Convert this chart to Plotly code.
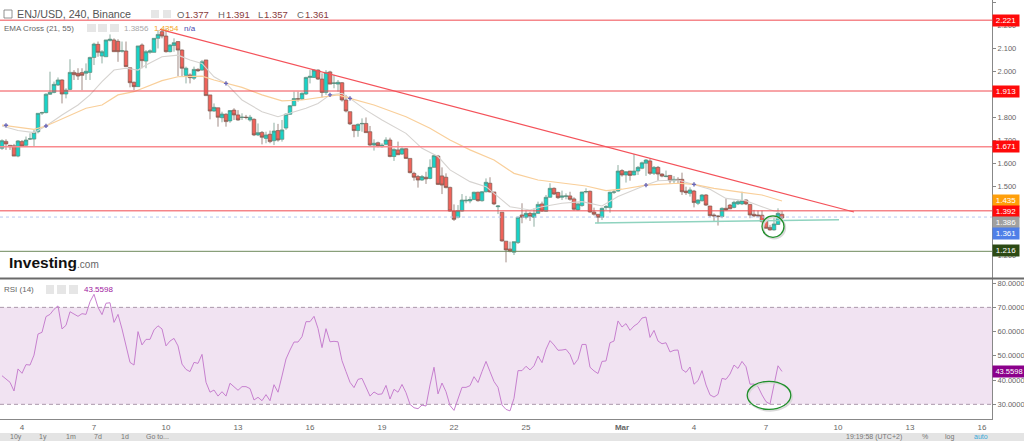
import plotly.graph_objects as go

# ---- candle data (4h bars, ENJ/USD) ----
opens = [1.664,1.694,1.677,1.675,1.630,1.693,1.677,1.704,1.704,1.736,1.817,1.819,1.899,1.907,1.939,1.961,1.900,1.920,1.994,1.990,
1.993,1.990,1.994,2.059,2.116,2.065,2.062,2.133,2.135,2.129,2.086,2.087,2.014,1.951,1.932,2.113,2.043,2.081,2.081,2.142,
2.171,2.152,2.084,2.111,2.128,2.091,1.981,1.983,1.969,2.007,2.004,2.048,1.896,1.826,1.840,1.797,1.812,1.783,1.830,1.809,
1.798,1.799,1.787,1.790,1.722,1.733,1.707,1.725,1.697,1.741,1.703,1.752,1.812,1.849,1.879,1.878,1.900,1.972,1.972,2.004,
1.965,1.907,1.996,1.946,1.943,1.949,1.874,1.823,1.765,1.741,1.770,1.772,1.736,1.678,1.688,1.671,1.681,1.700,1.628,1.657,
1.639,1.662,1.620,1.555,1.541,1.526,1.538,1.533,1.581,1.630,1.544,1.538,1.494,1.391,1.364,1.391,1.435,1.435,1.441,1.473,
1.436,1.475,1.512,1.474,1.410,1.386,1.260,1.226,1.212,1.254,1.374,1.364,1.381,1.364,1.381,1.422,1.390,1.451,1.490,1.472,
1.451,1.454,1.457,1.444,1.396,1.415,1.474,1.477,1.387,1.377,1.364,1.407,1.406,1.473,1.478,1.567,1.548,1.565,1.548,1.565,
1.577,1.599,1.609,1.555,1.581,1.552,1.541,1.546,1.523,1.529,1.529,1.478,1.468,1.478,1.425,1.436,1.461,1.413,1.374,1.370,
1.367,1.403,1.417,1.407,1.422,1.422,1.439,1.420,1.377,1.374,1.373,1.349,1.320,1.309,1.333,1.377]
highs = [1.703,1.703,1.677,1.683,1.700,1.700,1.715,1.729,1.744,1.816,1.823,1.903,1.997,1.954,1.972,1.964,1.925,2.051,2.004,2.012,
2.012,2.033,2.062,2.123,2.128,2.091,2.135,2.159,2.142,2.138,2.128,2.128,2.014,1.954,2.109,2.120,2.091,2.094,2.142,2.178,
2.185,2.185,2.116,2.142,2.128,2.094,2.019,1.990,2.019,2.012,2.048,2.048,1.896,1.859,1.840,1.823,1.816,1.830,1.838,1.830,
1.816,1.809,1.809,1.794,1.772,1.739,1.736,1.741,1.775,1.770,1.787,1.816,1.852,1.910,1.910,1.907,1.975,2.004,2.007,2.007,
1.990,2.004,2.001,1.983,1.961,1.952,1.896,1.823,1.765,1.772,1.794,1.798,1.761,1.703,1.693,1.686,1.712,1.710,1.664,1.693,
1.668,1.664,1.620,1.562,1.548,1.548,1.562,1.616,1.635,1.635,1.581,1.555,1.497,1.420,1.417,1.465,1.457,1.454,1.475,1.475,
1.478,1.533,1.538,1.474,1.417,1.386,1.260,1.258,1.258,1.367,1.425,1.393,1.388,1.403,1.432,1.432,1.461,1.512,1.494,1.475,
1.480,1.468,1.475,1.451,1.428,1.474,1.490,1.480,1.406,1.377,1.406,1.417,1.475,1.483,1.591,1.573,1.565,1.565,1.639,1.587,
1.606,1.617,1.620,1.587,1.587,1.555,1.567,1.548,1.543,1.538,1.558,1.497,1.494,1.483,1.442,1.465,1.465,1.413,1.381,1.374,
1.407,1.446,1.422,1.436,1.439,1.475,1.442,1.422,1.396,1.393,1.393,1.355,1.331,1.364,1.403,1.391]
lows = [1.657,1.657,1.657,1.630,1.625,1.671,1.671,1.700,1.674,1.729,1.809,1.816,1.896,1.903,1.935,1.859,1.881,1.917,1.961,1.961,
1.917,1.961,1.961,2.026,2.062,2.033,2.062,2.128,2.084,2.040,2.080,2.019,1.929,1.917,1.932,2.012,2.012,2.075,2.081,2.098,
2.142,2.080,2.081,2.084,1.978,1.978,1.946,1.946,1.961,1.996,2.001,1.893,1.790,1.823,1.758,1.777,1.758,1.775,1.787,1.784,
1.787,1.790,1.780,1.717,1.717,1.681,1.686,1.686,1.678,1.693,1.693,1.744,1.809,1.848,1.867,1.875,1.896,1.946,1.970,1.961,
1.885,1.896,1.943,1.925,1.910,1.867,1.820,1.765,1.712,1.714,1.736,1.732,1.674,1.654,1.668,1.667,1.677,1.625,1.609,1.635,
1.635,1.619,1.555,1.523,1.493,1.522,1.509,1.529,1.581,1.504,1.465,1.490,1.388,1.348,1.359,1.388,1.425,1.425,1.439,1.432,
1.432,1.472,1.472,1.417,1.378,1.258,1.168,1.212,1.200,1.248,1.338,1.355,1.348,1.323,1.378,1.387,1.387,1.449,1.461,1.444,
1.439,1.442,1.436,1.393,1.393,1.410,1.468,1.384,1.371,1.338,1.352,1.396,1.384,1.465,1.475,1.541,1.515,1.523,1.546,1.548,
1.573,1.544,1.548,1.548,1.523,1.538,1.538,1.509,1.509,1.509,1.461,1.461,1.454,1.407,1.417,1.432,1.413,1.364,1.345,1.328,
1.360,1.393,1.399,1.403,1.417,1.417,1.417,1.360,1.364,1.364,1.341,1.315,1.306,1.306,1.331,1.357]
closes = [1.697,1.683,1.671,1.630,1.696,1.674,1.700,1.705,1.733,1.816,1.819,1.899,1.907,1.942,1.961,1.900,1.917,1.994,1.984,1.978,
1.981,1.999,2.059,2.117,2.081,2.084,2.135,2.138,2.084,2.084,2.088,2.019,1.949,1.932,2.109,2.045,2.084,2.088,2.142,2.159,
2.152,2.084,2.113,2.123,2.091,2.012,2.012,1.971,2.007,2.001,2.040,1.893,1.826,1.842,1.799,1.813,1.780,1.828,1.809,1.787,
1.799,1.798,1.799,1.722,1.732,1.712,1.722,1.693,1.739,1.700,1.744,1.812,1.849,1.880,1.878,1.903,1.972,1.977,2.004,1.965,
1.907,1.994,1.943,1.948,1.951,1.874,1.826,1.770,1.741,1.768,1.772,1.732,1.678,1.686,1.674,1.678,1.700,1.628,1.659,1.636,
1.662,1.620,1.558,1.538,1.526,1.541,1.531,1.581,1.632,1.507,1.504,1.493,1.391,1.355,1.393,1.439,1.438,1.441,1.473,1.436,
1.475,1.516,1.474,1.422,1.413,1.261,1.222,1.215,1.258,1.364,1.364,1.381,1.367,1.381,1.420,1.391,1.451,1.490,1.465,1.449,
1.457,1.457,1.442,1.399,1.422,1.474,1.476,1.387,1.377,1.364,1.403,1.410,1.473,1.474,1.565,1.548,1.562,1.546,1.565,1.581,
1.601,1.613,1.555,1.581,1.552,1.543,1.543,1.523,1.529,1.526,1.475,1.471,1.483,1.428,1.439,1.461,1.417,1.371,1.370,1.367,
1.403,1.396,1.401,1.429,1.432,1.436,1.422,1.374,1.370,1.370,1.345,1.316,1.309,1.335,1.381,1.361]
bars = list(range(len(closes)))

# ---- moving averages, read at visible bends (bar number, price) ----
ema55_bar = [0,4,8,11,16,21,25,29,33,36,40,44,46,50,53,56,60,65,70,75,79,84,87,93,101,107,112,117,123,128,134,141,146,151,155,161,169,173,178,185,190,195]
ema55_val = [1.765,1.755,1.746,1.761,1.801,1.838,1.852,1.896,1.910,1.932,1.958,1.975,1.975,1.978,1.961,1.946,1.929,1.896,1.870,1.874,1.885,1.896,1.881,1.852,1.801,1.751,1.700,1.657,1.613,1.555,1.526,1.512,1.500,1.480,1.486,1.504,1.512,1.507,1.490,1.472,1.461,1.435]
ema21_bar = [0,4,8,11,15,19,22,25,28,31,34,36,40,44,47,50,53,56,60,65,69,72,76,79,82,85,87,91,95,101,105,109,112,117,121,124,127,132,135,140,145,150,154,161,164,169,173,177,181,186,190,193,195]
ema21_val = [1.761,1.741,1.732,1.761,1.809,1.852,1.896,1.954,2.004,2.012,2.004,2.026,2.062,2.069,2.048,2.033,1.975,1.946,1.874,1.823,1.801,1.816,1.838,1.859,1.896,1.903,1.881,1.830,1.787,1.729,1.664,1.628,1.570,1.519,1.497,1.454,1.410,1.396,1.410,1.425,1.432,1.413,1.454,1.504,1.523,1.526,1.507,1.486,1.446,1.436,1.410,1.391,1.386]
cross_bar = [1,11,56,82,87,161,173]
cross_val = [1.764,1.761,1.946,1.896,1.881,1.504,1.507]

# ---- RSI ----
rsi = [41.8,40.4,39.1,35.5,44.6,42.8,46.4,46.2,50.3,59.0,59.7,66.2,67.1,69.2,70.6,61.1,62.6,68.2,67.3,66.3,
67.4,67.1,72.3,75.4,70.0,67.0,71.7,71.9,63.8,67.1,61.1,53.8,47.3,46.2,60.0,54.5,56.8,56.8,60.7,62.4,
61.1,54.1,56.1,57.2,54.1,46.6,44.4,43.5,47.3,46.9,50.6,39.1,35.0,35.9,33.4,35.2,33.4,38.7,37.3,35.8,
37.3,37.3,36.5,31.8,32.9,31.5,34.0,31.5,38.1,35.0,41.7,48.7,52.4,55.7,55.7,57.9,64.1,64.1,66.3,61.3,
53.4,61.2,55.8,56.0,55.8,48.0,43.5,39.1,36.9,40.3,40.7,37.3,33.4,35.1,34.1,34.3,37.8,32.2,36.2,35.0,
38.2,34.8,30.0,28.6,28.2,29.7,29.3,38.0,45.3,34.3,38.8,35.2,29.5,27.5,32.1,37.0,37.0,37.7,41.4,39.0,
43.5,47.7,43.5,39.4,37.0,29.7,27.9,27.3,32.5,43.9,43.9,45.7,44.2,45.9,49.9,47.2,52.7,56.3,54.5,52.3,
52.4,52.7,50.6,46.4,48.6,54.7,54.7,45.3,43.8,42.7,47.7,47.9,55.4,56.1,64.4,61.9,63.3,60.5,62.3,63.4,
65.6,66.0,57.6,60.5,56.1,55.0,55.4,51.6,52.3,52.4,44.4,43.2,45.4,38.3,39.8,43.9,38.0,33.9,33.0,34.1,
40.7,40.3,42.5,46.2,44.8,47.7,45.5,38.3,38.4,37.3,33.9,31.1,30.1,38.0,45.9,43.56]

# ---- axes ----
x_tick_bars = [5,23,41,59,77,95,113,131,155,173,191,209,227,245]
x_tick_text = ["4","7","10","13","16","19","22","25","<b>Mar</b>","4","7","10","13","16"]
price_ticks = [1.2,1.5,1.6,1.7,1.8,2.0,2.1,2.2,2.3]
rsi_ticks = [30,40,50,60,70,80]

# ---- drawn levels and their right-hand tags ----
red_levels = [2.221,1.913,1.392]
soft_level = 1.671
support_level = 1.216
last_level = 1.365
trend_bars = [39.5,213]
trend_vals = [2.181,1.387]
flat_bars = [148.25,209.25]
flat_vals = [1.339,1.353]
tag_text = ["2.221","1.913","1.671","1.435","1.392","1.386","1.361","1.216"]
tag_pos = [2.221,1.913,1.671,1.436,1.391,1.340,1.294,1.219]
tag_col = ["#ff0a0a","#ff0a0a","#ff0a0a","#ff9f0a","#ff0a0a","#a0a0a0","#4f7fe8","#2c4a14"]

FONT = "Liberation Sans"
W, H, PLOT_W, PLOT_H = 1024, 441, 992, 419
px = lambda v: v / PLOT_W
py = lambda v: 1 - v / PLOT_H

fig = go.Figure()
fig.add_trace(go.Candlestick(
    x=bars, open=opens, high=highs, low=lows, close=closes, xaxis="x", yaxis="y",
    increasing=dict(fillcolor="#17d3c8", line=dict(color="#5d8a78", width=0.7)),
    decreasing=dict(fillcolor="#f0625a", line=dict(color="#7a5a50", width=0.7)),
    whiskerwidth=0, showlegend=False, hoverinfo="skip"))
fig.add_trace(go.Scatter(x=ema21_bar, y=ema21_val, mode="lines", line=dict(color="#d6d3d0", width=1.1), yaxis="y", showlegend=False, hoverinfo="skip"))
fig.add_trace(go.Scatter(x=ema55_bar, y=ema55_val, mode="lines", line=dict(color="#f9cf9a", width=1.2), yaxis="y", showlegend=False, hoverinfo="skip"))
fig.add_trace(go.Scatter(x=cross_bar, y=cross_val, mode="markers", marker=dict(symbol="cross", size=3.5, color="#6a68b8"), yaxis="y", showlegend=False, hoverinfo="skip"))
fig.add_trace(go.Scatter(x=bars, y=rsi, mode="lines", line=dict(color="#c780cf", width=1), yaxis="y2", showlegend=False, hoverinfo="skip"))

shapes = []
def hline(val, color, width=1, dash="solid"):
    shapes.append(dict(type="line", xref="x domain", yref="y", x0=0, x1=1, y0=val, y1=val, line=dict(color=color, width=width, dash=dash), layer="above"))
for v in red_levels:
    hline(v, "#f04a50", 1)
hline(soft_level, "#f98a8e", 1.5)
hline(last_level, "#b9c8f0", 1, "dot")
hline(support_level, "#6f8a5c", 1)
shapes.append(dict(type="line", xref="x", yref="y", x0=trend_bars[0], x1=trend_bars[1], y0=trend_vals[0], y1=trend_vals[1], line=dict(color="#f4525a", width=1.2)))
shapes.append(dict(type="line", xref="x", yref="y", x0=flat_bars[0], x1=flat_bars[1], y0=flat_vals[0], y1=flat_vals[1], line=dict(color="#8fd3bf", width=1.5)))
# circles (with faint shadow)
shapes.append(dict(type="circle", xref="x", yref="y", x0=190.3, x1=195.8, y0=1.272, y1=1.365, line=dict(color="#d9d9d9", width=2)))
shapes.append(dict(type="circle", xref="x", yref="y", x0=190, x1=195.5, y0=1.277, y1=1.370, line=dict(color="#1f8f2a", width=1.3)))
shapes.append(dict(type="circle", xref="x", yref="y2", x0=186.6, x1=197.5, y0=27.4, y1=39.0, line=dict(color="#d9d9d9", width=2)))
shapes.append(dict(type="circle", xref="x", yref="y2", x0=186.3, x1=197.2, y0=27.9, y1=39.5, line=dict(color="#1f8f2a", width=1.3)))
# RSI band
shapes.append(dict(type="rect", xref="x domain", yref="y2", x0=0, x1=1, y0=30, y1=70, fillcolor="#f1e3f2", line=dict(width=0), layer="below"))
for v in (30, 70):
    shapes.append(dict(type="line", xref="x domain", yref="y2", x0=0, x1=1, y0=v, y1=v, line=dict(color="#ab98ab", width=1, dash="4px,3px"), layer="below"))
# pane separator, toolbar, legend buttons
shapes.append(dict(type="line", xref="paper", yref="paper", x0=0, x1=px(W), y0=py(278.5), y1=py(278.5), line=dict(color="#6a6a6a", width=2)))
shapes.append(dict(type="rect", xref="paper", yref="paper", x0=0, x1=px(W), y0=py(433), y1=py(441), fillcolor="#e4e4e4", line=dict(width=0)))
for x0, x1, y0, y1 in [(151,159,10,18),(163,171,10,18),(87,96,24,32),(98,107,24,32),(110,119,24,32),(46,54,285,294),(57,66,285,294),(69,78,285,294)]:
    shapes.append(dict(type="rect", xref="paper", yref="paper", x0=px(x0), x1=px(x1), y0=py(y0), y1=py(y1), fillcolor="#e6e6e6", line=dict(width=0)))
shapes.append(dict(type="rect", xref="paper", yref="paper", x0=px(4), x1=px(12), y0=py(10), y1=py(18), line=dict(color="#777", width=0.8)))

ann = []
def text(x, y, s, size, color, anchor="left"):
    ann.append(dict(xref="paper", yref="paper", x=px(x), y=py(y), text=s, showarrow=False, xanchor=anchor, yanchor="middle",
                    font=dict(family=FONT, size=size, color=color), borderpad=0, borderwidth=0))
text(17, 14, "ENJ/USD, 240, Binance", 10.7, "#555555")
for x, s in [(177, "O"), (218, "H"), (258, "L"), (297, "C")]:
    text(x, 14, s, 9.5, "#666666")
for x, s in [(185, "1.377"), (226, "1.391"), (264, "1.357"), (305, "1.361")]:
    text(x, 14, s, 9.5, "#8a3b3b")
text(4, 28, "EMA Cross (21, 55)", 8, "#666666")
text(124, 28, "1.3856", 8, "#a8a8a8")
text(154, 28, "1.4354", 8, "#f5a623")
text(184, 28, "n/a", 8, "#4a4ab0")
text(4, 289.5, "RSI (14)", 8, "#666666")
text(84, 289.5, "43.5598", 8, "#a020a0")
text(9, 262, "<b>Investing</b><span style='color:#666;font-size:10px'>.com</span>", 15.5, "#111111")
TOOL_Y = 436.8
for x, s in [(10, "10y"), (39, "1y"), (66, "1m"), (94, "7d"), (121, "1d"), (146, "Go to...")]:
    text(x, TOOL_Y, s, 7, "#777777")
for x, s in [(846, "19:19:58 (UTC+2)"), (922, "%"), (945, "log")]:
    text(x, TOOL_Y, s, 7, "#777777")
text(974, TOOL_Y, "auto", 7, "#38a8d8")
for s, v, c in zip(tag_text, tag_pos, tag_col):
    ann.append(dict(xref="paper", yref="y", x=px(992), y=v, text=s, showarrow=False, xanchor="left", yanchor="middle",
                    width=26, align="center", height=10.5, bgcolor=c, borderpad=0, font=dict(family=FONT, size=8, color="#ffffff")))
ann.append(dict(xref="paper", yref="y2", x=px(992), y=rsi[-1], text="43.5598", showarrow=False, xanchor="left", yanchor="middle",
                width=32, align="center", height=10.5, bgcolor="#8b008b", borderpad=0, font=dict(family=FONT, size=7.5, color="#ffffff")))

fig.update_layout(
    width=W, height=H, margin=dict(l=0, r=W - PLOT_W, t=0, b=H - PLOT_H, autoexpand=False),
    paper_bgcolor="white", plot_bgcolor="white", showlegend=False, dragmode=False, boxgap=0.1, boxgroupgap=0,
    shapes=shapes, annotations=ann,
    font=dict(family=FONT, size=8, color="#666666"),
    xaxis=dict(domain=[0, 1], anchor="y2", range=[-0.5, 247.5], tickmode="array", tickvals=x_tick_bars, ticktext=x_tick_text,
               showgrid=False, zeroline=False, rangeslider=dict(visible=False), showline=True, linecolor="#888888", linewidth=1,
               ticks="", tickfont=dict(family=FONT, size=8, color="#666666")),
    yaxis=dict(domain=[1 - 278 / PLOT_H, 1], range=[1.1, 2.3087], side="right", anchor="x", tickmode="array", tickvals=price_ticks,
               ticktext=["%.3f" % t for t in price_ticks], showgrid=False, zeroline=False, showline=True, linecolor="#888888", linewidth=1,
               ticks="outside", ticklen=3, tickcolor="#888888", tickfont=dict(family=FONT, size=7.5, color="#666666")),
    yaxis2=dict(domain=[0, 1 - 279 / PLOT_H], range=[23.95, 81.7], side="right", anchor="x", tickmode="array", tickvals=rsi_ticks,
                ticktext=["%.4f" % t for t in rsi_ticks], showgrid=False, zeroline=False, showline=True, linecolor="#888888", linewidth=1,
                ticks="outside", ticklen=3, tickcolor="#888888", tickfont=dict(family=FONT, size=7.5, color="#666666")),
)
fig.write_html("out.html", config=dict(displayModeBar=False), post_script="document.body.style.margin='0';")
